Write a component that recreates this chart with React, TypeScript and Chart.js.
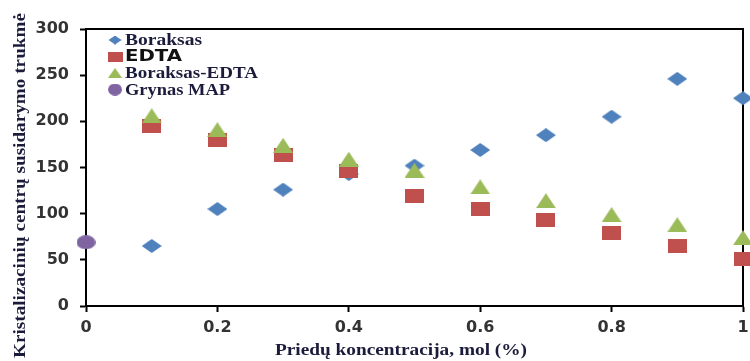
import React, { useEffect, useRef } from "react";
import { Chart, registerables } from "chart.js";

Chart.register(...registerables);

// ---- data ----
const xValues = [0.1, 0.2, 0.3, 0.4, 0.5, 0.6, 0.7, 0.8, 0.9, 1.0];
const boraksas = [65, 105, 126, 143, 152, 169, 185, 205, 246, 225];
const edta = [195, 180, 163, 146, 119, 105, 93, 79, 65, 51];
const boraksasEdta = [206, 191, 174, 159, 147, 129, 114, 99, 88, 74];
const grynasX = [0];
const grynasMap = [69];
const seriesLabels = ["Boraksas", "EDTA", "Boraksas-EDTA", "Grynas MAP"];
const xAxisRange = [0, 1, 0.2];
const yAxisRange = [0, 300, 50];
const xTitle = "Priedų koncentracija, mol (%)";
const yTitle = "Kristalizacinių centrų susidarymo trukmė";

// ---- styles ----
const COLORS = ["#4F81BD", "#C0504D", "#9BBB59", "#8064A2"];
const TITLE_COLOR = "#1b1b3b";
const SERIF = "'Liberation Serif', 'Times New Roman', serif";
const SANS = "'DejaVu Sans', sans-serif";

function makeMarker(shape: string, w: number, h: number, color: string) {
  const c = document.createElement("canvas");
  c.width = w;
  c.height = h;
  const g = c.getContext("2d")!;
  g.fillStyle = color;
  g.beginPath();
  if (shape === "diamond") {
    g.moveTo(w / 2, 0);
    g.lineTo(w, h / 2);
    g.lineTo(w / 2, h);
    g.lineTo(0, h / 2);
    g.closePath();
  } else if (shape === "square") {
    g.rect(0, 0, w, h);
  } else if (shape === "triangle") {
    g.moveTo(w / 2, 0);
    g.lineTo(w, h);
    g.lineTo(0, h);
    g.closePath();
  } else {
    g.ellipse(w / 2, h / 2, w / 2, h / 2, 0, 0, Math.PI * 2);
  }
  g.fill();
  return c;
}

const pts = (xs: number[], ys: number[]) => xs.map((x, i) => ({ x, y: ys[i] }));

export default function App() {
  const ref = useRef<HTMLCanvasElement | null>(null);

  useEffect(() => {
    document.body.style.margin = "0";
    const canvas = ref.current!;
    const markers = [
      makeMarker("diamond", 20, 14, COLORS[0]),
      makeMarker("square", 19, 14, COLORS[1]),
      makeMarker("triangle", 20, 15, COLORS[2]),
      makeMarker("ellipse", 19, 14, COLORS[3]),
    ];
    const legendSizes = [
      [13, 9],
      [15, 10],
      [14, 10],
      [14, 12],
    ];
    const legendFonts = [
      { font: `bold 17px ${SERIF}`, color: TITLE_COLOR, width: 77 },
      { font: `bold 15px ${SANS}`, color: "#111", width: 57 },
      { font: `bold 17px ${SERIF}`, color: TITLE_COLOR, width: 133 },
      { font: `bold 17px ${SERIF}`, color: TITLE_COLOR, width: 105 },
    ];

    const fitText = (
      ctx: CanvasRenderingContext2D,
      text: string,
      x: number,
      y: number,
      width: number,
      align: "left" | "center"
    ) => {
      const m = ctx.measureText(text).width;
      const sx = width / m;
      ctx.save();
      ctx.translate(x, y);
      ctx.scale(sx, 1);
      ctx.textAlign = align;
      ctx.fillText(text, 0, 0);
      ctx.restore();
    };

    const framePlugin = {
      id: "frame",
      beforeDatasetsDraw(chart: any) {
        const { ctx, chartArea: a } = chart;
        ctx.save();
        ctx.strokeStyle = "#000";
        ctx.lineWidth = 2;
        ctx.beginPath();
        ctx.moveTo(a.left, a.top);
        ctx.lineTo(a.right, a.top);
        ctx.lineTo(a.right, a.bottom);
        ctx.stroke();
        ctx.restore();
      },
    };

    const labelPlugin = {
      id: "labels",
      afterDatasetsDraw(chart: any) {
        const { ctx, chartArea: a } = chart;
        ctx.save();
        // legend
        const lx = a.left + 29;
        const tx = a.left + 39;
        chart.data.datasets.forEach((ds: any, i: number) => {
          const cy = a.top + 11 + i * 16.5;
          const [w, h] = legendSizes[i];
          ctx.drawImage(markers[i], lx - w / 2, cy - h / 2, w, h);
          const f = legendFonts[i];
          ctx.font = f.font;
          ctx.fillStyle = f.color;
          ctx.textBaseline = "middle";
          fitText(ctx, ds.label, tx, cy + 1, f.width, "left");
        });
        // axis titles
        ctx.font = `bold 17px ${SERIF}`;
        ctx.fillStyle = TITLE_COLOR;
        ctx.textBaseline = "alphabetic";
        fitText(ctx, xTitle, 401, 355, 252, "center");
        ctx.save();
        ctx.translate(25, 185.5);
        ctx.rotate(-Math.PI / 2);
        fitText(ctx, yTitle, 0, 0, 345, "center");
        ctx.restore();
        ctx.restore();
      },
    };

    const tickFont = { family: SANS, size: 16, weight: "bold" as const };

    const chart = new Chart(canvas, {
      type: "scatter",
      data: {
        datasets: [
          { label: seriesLabels[0], data: pts(xValues, boraksas), pointStyle: markers[0], order: 3, clip: false },
          { label: seriesLabels[1], data: pts(xValues, edta), pointStyle: markers[1], order: 2, clip: false },
          { label: seriesLabels[2], data: pts(xValues, boraksasEdta), pointStyle: markers[2], order: 1, clip: false },
          { label: seriesLabels[3], data: pts(grynasX, grynasMap), pointStyle: markers[3], order: 0, clip: false },
        ] as any,
      },
      options: {
        responsive: false,
        animation: false,
        events: [],
        layout: { padding: { left: 0, right: 7, top: 29, bottom: 0 } },
        plugins: { legend: { display: false }, tooltip: { enabled: false } },
        scales: {
          x: {
            type: "linear",
            min: xAxisRange[0],
            max: xAxisRange[1],
            ticks: {
              stepSize: xAxisRange[2],
              font: tickFont,
              color: "#333",
              padding: 6,
              maxRotation: 0,
              autoSkip: false,
              callback: (v: any) => String(Math.round(Number(v) * 10) / 10),
            },
            grid: { drawOnChartArea: false, drawTicks: true, tickLength: 6, tickColor: "#000", tickWidth: 2 },
            border: { display: true, color: "#000", width: 2 },
            afterFit: (s: any) => {
              s.height = 55;
              s.paddingLeft = 0;
              s.paddingRight = 0;
            },
          },
          y: {
            type: "linear",
            min: yAxisRange[0],
            max: yAxisRange[1],
            ticks: { stepSize: yAxisRange[2], font: tickFont, color: "#333", padding: 11 },
            grid: { drawOnChartArea: false, drawTicks: true, tickLength: 6, tickColor: "#000", tickWidth: 2 },
            border: { display: true, color: "#000", width: 2 },
            afterFit: (s: any) => {
              s.width = 86;
              s.paddingTop = 0;
              s.paddingBottom = 0;
            },
          },
        },
      },
      plugins: [framePlugin, labelPlugin],
    });
    return () => chart.destroy();
  }, []);

  return <canvas ref={ref} width={750} height={361} style={{ display: "block" }} />;
}
